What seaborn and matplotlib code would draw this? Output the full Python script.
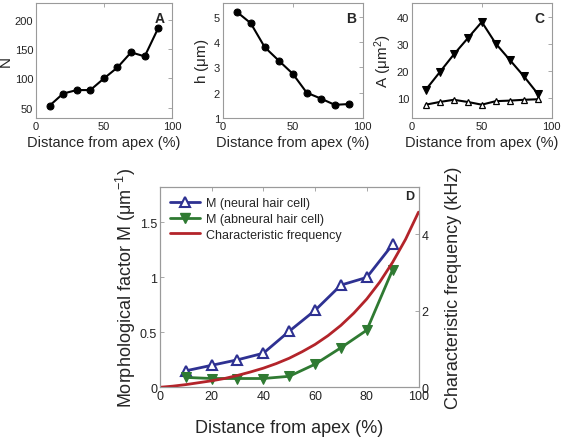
import numpy as np
import pandas as pd
import matplotlib.pyplot as plt
import seaborn as sns
from matplotlib.lines import Line2D

# data
distance = [10, 20, 30, 40, 50, 60, 70, 80, 90]
n_cells = [53, 74, 80, 80, 100, 119, 145, 138, 187]
height_um = [5.2, 4.75, 3.8, 3.27, 2.75, 2.0, 1.77, 1.52, 1.55]
area_abneural = [13, 19.5, 26, 32, 38, 30, 24, 18, 11.5]
area_neural = [7.5, 8.5, 9.3, 8.5, 7.5, 8.8, 9.0, 9.3, 9.5]
m_neural = [0.15, 0.2, 0.25, 0.31, 0.51, 0.70, 0.93, 1.0, 1.30]
m_abneural = [0.09, 0.08, 0.08, 0.08, 0.10, 0.21, 0.36, 0.52, 1.07]
cf_distance = [0, 5, 10, 15, 20, 25, 30, 35, 40, 45, 50, 55, 60, 65, 70, 75, 80, 85, 90, 95, 100]
cf_khz = [0, 0.03, 0.07, 0.12, 0.17, 0.23, 0.31, 0.40, 0.50, 0.62, 0.76, 0.93, 1.12,
          1.35, 1.62, 1.94, 2.31, 2.75, 3.27, 3.87, 4.58]

sns.set_style("white")
plt.rcParams['font.family'] = ['Liberation Sans', 'DejaVu Sans']
plt.rcParams['mathtext.fontset'] = 'custom'
plt.rcParams['mathtext.rm'] = 'Liberation Sans'
plt.rcParams['mathtext.it'] = 'Liberation Sans'

fig = plt.figure(figsize=(5.61, 4.39), dpi=100)

GRAY = '#9a9a9a'
TXT = '#222222'


def style_axes(ax, fs=8):
    for sp in ax.spines.values():
        sp.set_color(GRAY)
        sp.set_linewidth(0.8)
    ax.tick_params(direction='in', length=3, width=0.6, color=GRAY,
                   labelsize=fs, labelcolor=TXT, pad=2, top=True, right=True)
    ax.set_xlim(0, 100)


# A
axA = fig.add_axes([0.064, 0.729, 0.2424, 0.262])
sns.lineplot(x=distance, y=n_cells, ax=axA, color='black', marker='o',
             markersize=5, markeredgecolor='black', linewidth=1.5)
style_axes(axA)
axA.set_ylim(32, 230)
axA.set_xticks([0, 50, 100])
axA.set_yticks([50, 100, 150, 200])
axA.set_xlabel('Distance from apex (%)', fontsize=10.5, labelpad=3)
axA.set_ylabel('N', fontsize=11, labelpad=1)
axA.text(0.95, 0.93, 'A', transform=axA.transAxes, ha='right', va='top',
         fontsize=10, fontweight='bold')

# B
axB = fig.add_axes([0.397, 0.729, 0.2496, 0.262])
sns.lineplot(x=distance, y=height_um, ax=axB, color='black', marker='o',
             markersize=5, markeredgecolor='black', linewidth=1.5)
style_axes(axB)
axB.set_ylim(1, 5.55)
axB.set_xticks([0, 50, 100])
axB.set_yticks([1, 2, 3, 4, 5])
axB.set_xlabel('Distance from apex (%)', fontsize=10.5, labelpad=3)
axB.set_ylabel(r'h ($\mu$m)', fontsize=11, labelpad=2)
axB.text(0.95, 0.93, 'B', transform=axB.transAxes, ha='right', va='top',
         fontsize=10, fontweight='bold')

# C
axC = fig.add_axes([0.734, 0.729, 0.2496, 0.262])
sns.lineplot(x=distance, y=area_abneural, ax=axC, color='black', marker='v',
             markersize=6, markeredgecolor='black', linewidth=1.5)
sns.lineplot(x=distance, y=area_neural, ax=axC, color='black', marker='^',
             markersize=5, markerfacecolor='white', markeredgecolor='black',
             markeredgewidth=0.9, linewidth=1.5)
style_axes(axC)
axC.set_ylim(2.6, 45)
axC.set_xticks([0, 50, 100])
axC.set_yticks([10, 20, 30, 40])
axC.set_xlabel('Distance from apex (%)', fontsize=10.5, labelpad=3)
axC.set_ylabel(r'A ($\mu$m$^2$)', fontsize=11, labelpad=2)
axC.text(0.95, 0.93, 'C', transform=axC.transAxes, ha='right', va='top',
         fontsize=10, fontweight='bold')

# D
BLUE = '#2e3192'
GREEN = '#2f7a32'
RED = '#b3242a'

axD = fig.add_axes([0.285, 0.1155, 0.461, 0.4556])
sns.lineplot(x=distance, y=m_neural, ax=axD, color=BLUE, marker='^',
             markersize=7.5, markerfacecolor='white', markeredgecolor=BLUE,
             markeredgewidth=1.5, linewidth=2)
sns.lineplot(x=distance, y=m_abneural, ax=axD, color=GREEN, marker='v',
             markersize=7.5, markeredgecolor=GREEN, linewidth=2)
style_axes(axD, fs=9)
axD.tick_params(right=False)
axD.set_ylim(0, 1.82)
axD.set_xticks([0, 20, 40, 60, 80, 100])
axD.set_yticks([0, 0.5, 1, 1.5])
axD.set_yticklabels(['0', '0.5', '1', '1.5'])
axD.set_xlabel('Distance from apex (%)', fontsize=13, labelpad=12)
axD.set_ylabel(r'Morphological factor M ($\mu$m$^{-1}$)', fontsize=13, labelpad=1)

axD2 = axD.twinx()
sns.lineplot(x=cf_distance, y=cf_khz, ax=axD2, color=RED, linewidth=2)
for sp in axD2.spines.values():
    sp.set_color(GRAY)
    sp.set_linewidth(0.8)
axD2.set_ylim(0, 5.23)
axD2.set_yticks([0, 2, 4])
axD2.tick_params(direction='in', length=3, width=0.6, color=GRAY,
                 labelsize=9, labelcolor=TXT, pad=2)
axD2.set_xlim(0, 100)
axD2.set_ylabel('Characteristic frequency (kHz)', fontsize=13, labelpad=12)
axD2.text(0.985, 0.985, 'D', transform=axD2.transAxes, ha='right', va='top',
          fontsize=9, fontweight='bold')

handles = [
    Line2D([], [], color=BLUE, marker='^', markersize=7.5, markerfacecolor='white',
           markeredgecolor=BLUE, markeredgewidth=1.5, linewidth=2),
    Line2D([], [], color=GREEN, marker='v', markersize=7.5, linewidth=2),
    Line2D([], [], color=RED, linewidth=2),
]
labels = ['M (neural hair cell)', 'M (abneural hair cell)', 'Characteristic frequency']
axD2.legend(handles, labels, loc='upper left', frameon=False, fontsize=9,
            handlelength=2.4, borderaxespad=0.4, labelspacing=0.3,
            handletextpad=0.5)

fig.savefig('out.png', dpi=100)
